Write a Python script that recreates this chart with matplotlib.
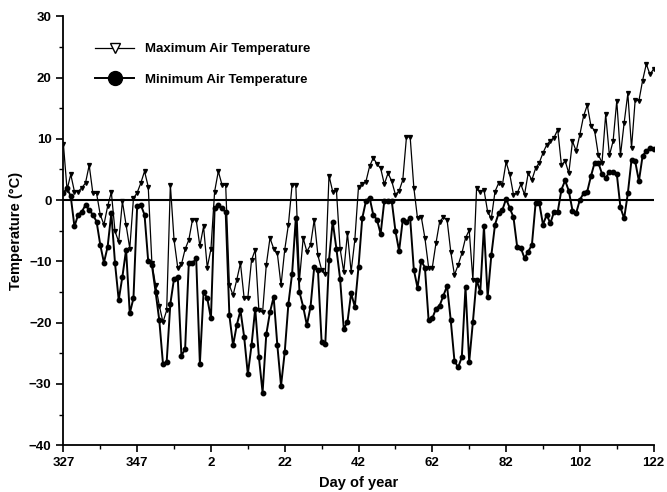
import matplotlib.pyplot as plt
from matplotlib.lines import Line2D
import numpy as np

plt.rcParams['font.family'] = ['Liberation Sans', 'DejaVu Sans']

# Daily air temperature (°C), day 327 through day 122 of the following year
t_max = [9.2, 1.7, 4.2, 1.4, 1.4, 2.0, 2.8, 5.7, 1.1, 1.1,
         -2.4, -4.0, -1.0, 1.3, -5.1, -6.8, -0.2, -4.0, -7.9, 0.3,
         1.2, 2.8, 4.7, 2.2, -10.3, -13.9, -17.2, -19.9, -18.0, 2.5,
         -6.5, -11.0, -10.5, -8.0, -6.5, -3.2, -3.2, -7.5, -4.3, -11.0,
         -8.0, 1.4, 4.7, 2.5, 2.4, -13.9, -15.5, -13.0, -10.3, -16.0,
         -16.0, -9.8, -8.1, -18.0, -18.3, -10.6, -6.2, -7.9, -8.7, -13.9,
         -8.1, -4.0, 2.5, 2.5, -13.0, -6.2, -8.4, -7.3, -3.2, -9.0,
         -11.4, -12.0, 4.0, 1.4, 1.7, -7.9, -11.7, -5.4, -11.7, -6.5,
         2.2, 2.6, 3.0, 5.5, 6.9, 5.9, 5.2, 2.6, 4.4, 3.1,
         0.9, 1.5, 3.3, 10.3, 10.3, 2.0, -3.0, -2.7, -6.2, -11.0,
         -11.0, -7.0, -3.5, -2.8, -3.2, -8.4, -12.2, -10.6, -8.7, -6.2,
         -4.9, -13.0, 1.9, 1.4, 1.7, -1.9, -3.0, 1.4, 2.8, 2.5,
         6.2, 4.2, 0.9, 1.1, 2.6, 0.9, 4.4, 3.3, 5.2, 6.1,
         7.7, 9.0, 9.7, 10.2, 11.5, 5.7, 6.4, 4.4, 9.6, 8.0,
         10.7, 13.7, 15.5, 12.1, 11.3, 7.4, 6.1, 14.0, 7.3, 9.6,
         16.2, 7.3, 12.6, 17.4, 8.5, 16.4, 16.2, 19.5, 22.2, 20.5,
         21.4]

t_min = [1.1, 2.0, 0.6, -4.3, -2.4, -1.9, -0.8, -1.6, -2.4, -3.5,
         -7.3, -10.2, -7.6, -2.1, -10.3, -16.3, -12.5, -8.1, -18.5, -16.0,
         -1.0, -0.8, -2.4, -10.0, -10.6, -15.0, -19.6, -26.7, -26.4, -16.9,
         -12.8, -12.5, -25.4, -24.3, -10.3, -10.3, -9.5, -26.7, -15.0, -16.0,
         -19.3, -1.3, -0.8, -1.3, -2.0, -18.8, -23.7, -20.4, -18.0, -22.3,
         -28.4, -23.7, -17.7, -25.6, -31.4, -21.9, -18.3, -15.8, -23.7, -30.3,
         -24.8, -16.9, -12.0, -3.0, -15.0, -17.4, -20.4, -17.4, -10.9, -11.4,
         -23.2, -23.4, -9.8, -3.5, -7.9, -12.8, -21.0, -19.9, -15.2, -17.4,
         -10.9, -3.0, -0.2, 0.4, -2.4, -3.2, -5.5, -0.1, -0.1, -0.1,
         -5.0, -8.3, -3.2, -3.5, -3.0, -11.4, -14.3, -9.9, -11.0, -19.6,
         -19.3, -17.7, -17.2, -15.6, -14.0, -19.6, -26.2, -27.3, -25.6, -14.2,
         -26.4, -19.9, -13.0, -15.0, -4.3, -15.8, -9.0, -4.0, -2.1, -1.6,
         0.2, -1.3, -2.8, -7.6, -7.8, -9.5, -8.4, -7.3, -0.5, -0.5,
         -4.0, -2.4, -3.8, -1.9, -1.9, 1.7, 3.2, 1.5, -1.7, -2.1,
         0.05, 1.1, 1.4, 3.9, 6.1, 6.1, 4.3, 3.6, 4.6, 4.6,
         4.3, -1.2, -3.0, 1.1, 6.6, 6.3, 3.1, 7.2, 8.0, 8.5,
         8.3]

tick_labels = ['327', '347', '2', '22', '42', '62', '82', '102', '122']

days = np.arange(len(t_max))

fig = plt.figure(figsize=(6.67, 4.92), dpi=100)
ax = fig.add_axes([0.095, 0.095, 0.885, 0.872])

ax.plot(days, t_max, color='black', lw=0.9, marker='v', ms=2.8,
        mfc='black', mec='black')
ax.plot(days, t_min, color='black', lw=1.4, marker='o', ms=3.2,
        mfc='black', mec='black')
ax.plot([0, days[-1]], [0, 0], color='black', lw=1.5)

ax.set_xlim(0, days[-1])
ax.set_ylim(-40, 30)
ax.set_xticks(np.arange(0, 161, 20))
ax.set_xticklabels(tick_labels)
ax.set_xticks(np.arange(10, 161, 20), minor=True)
ax.set_yticks(np.arange(-40, 31, 10))
ax.set_yticks(np.arange(-35, 30, 10), minor=True)

for side in ('top', 'right'):
    ax.spines[side].set_visible(False)
for side in ('left', 'bottom'):
    ax.spines[side].set_linewidth(1.3)

ax.tick_params(which='major', direction='out', length=5, width=1.2,
               labelsize=9.5)
ax.tick_params(which='minor', direction='out', length=3, width=1.0)
for lbl in ax.get_xticklabels() + ax.get_yticklabels():
    lbl.set_fontweight('bold')

ax.set_xlabel('Day of year', fontsize=10.5, fontweight='bold', labelpad=5)
ax.set_ylabel('Temperature (°C)', fontsize=10.5, fontweight='bold',
              labelpad=4)

handles = [
    Line2D([], [], color='black', lw=0.9, marker='v', ms=7,
           mfc='white', mec='black', mew=1.0),
    Line2D([], [], color='black', lw=1.4, marker='o', ms=10,
           mfc='black', mec='black'),
]
ax.legend(handles, ['Maximum Air Temperature', 'Minimum Air Temperature'],
          loc='upper left', bbox_to_anchor=(0.033, 0.965), frameon=False,
          prop={'size': 9.5, 'weight': 'bold'}, handlelength=3.0,
          labelspacing=1.4, handletextpad=0.8)

fig.savefig('out.png', dpi=100)
